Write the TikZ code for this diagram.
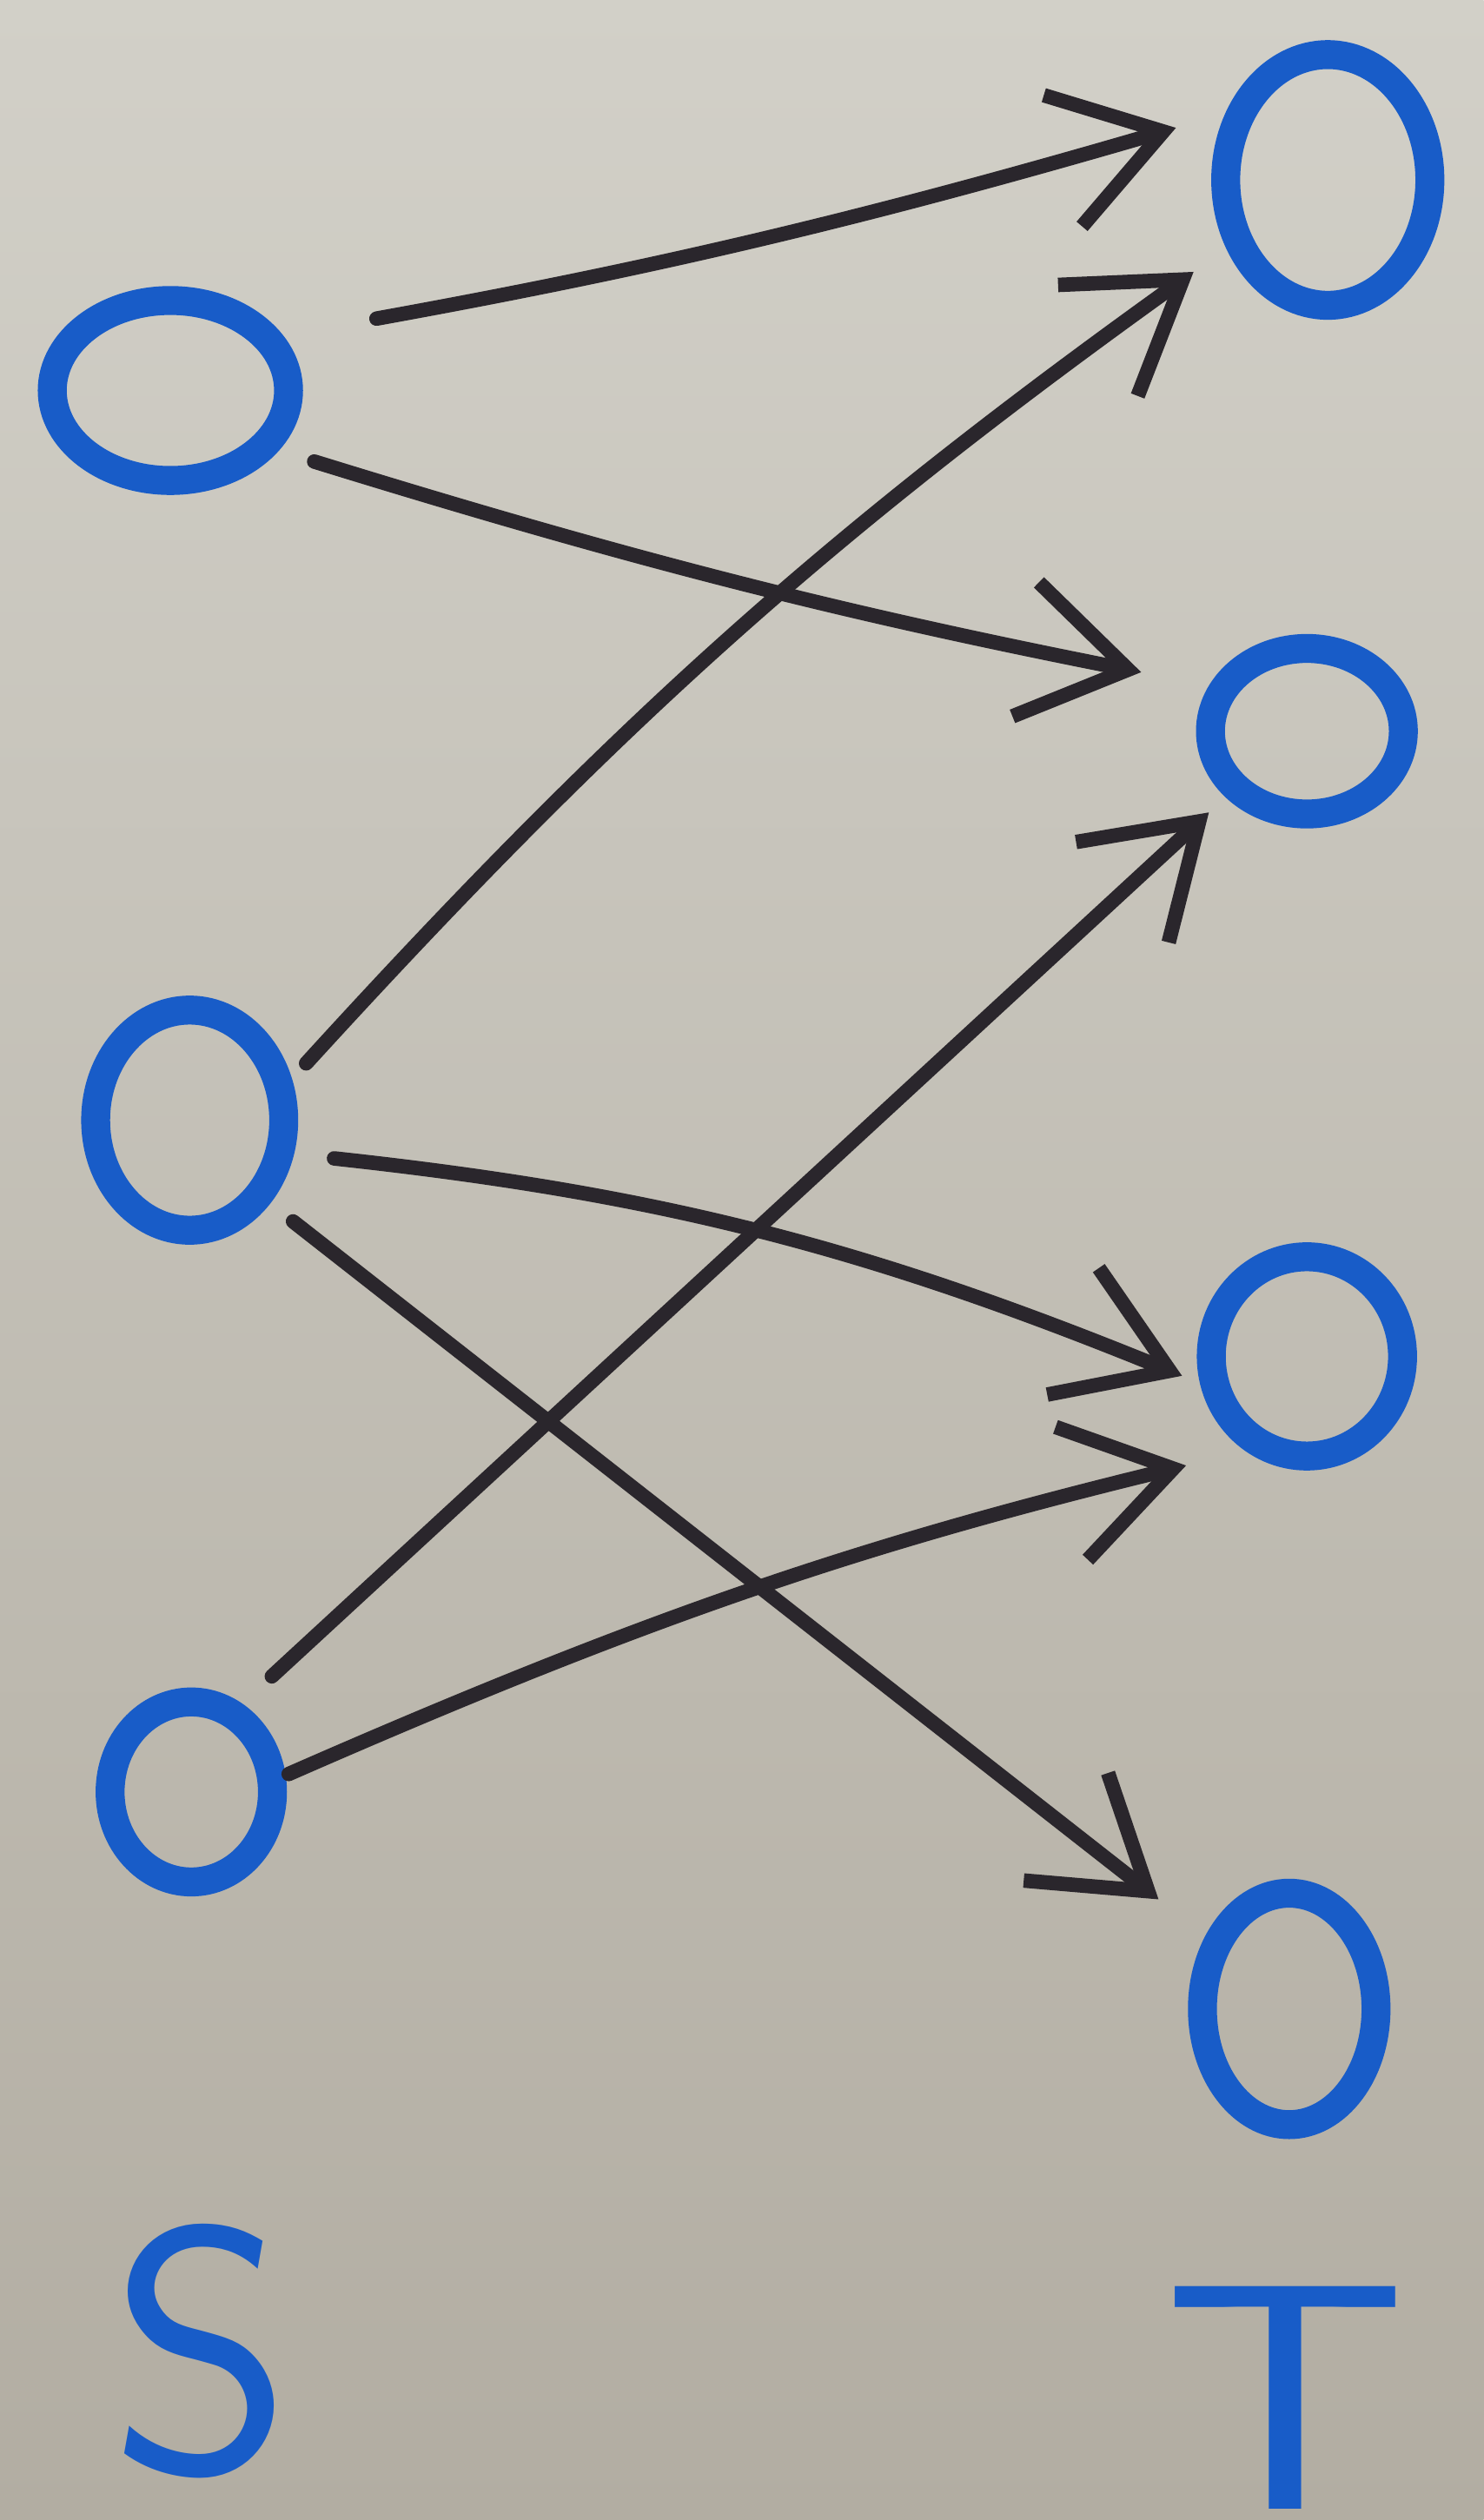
\documentclass[tikz,border=0pt]{standalone}
\usepackage{xcolor}
\usepackage{graphicx}
\usepackage{tikz}
\usetikzlibrary{shapes.geometric, arrows.meta, positioning}
\definecolor{inkblue}{RGB}{24,92,200}
\definecolor{inkblack}{RGB}{42,38,44}
\definecolor{paperlight}{RGB}{210,208,200}
\definecolor{paperdark}{RGB}{178,173,162}
\tikzstyle{vertex} = [ellipse, draw=inkblue, line width=0.18cm, inner sep=0pt]
\tikzstyle{arrow} = [line width=0.09cm, line cap=round, draw=inkblack, -{Straight Barb[length=0.65cm, width=0.85cm]}]
\tikzstyle{setlabel} = [text=inkblue, font=\sffamily\fontsize{62}{62}\selectfont, inner sep=0pt]

\begin{document}
\begin{tikzpicture}[node distance=4cm]
        % Paper
        \shade [top color=paperlight, bottom color=paperdark] (0,0) rectangle (9.23,15.68);
        \useasboundingbox (0,0) rectangle (9.23,15.68);

        % Set S
        \node (s1) [vertex, minimum width=1.47cm, minimum height=1.12cm] at (1.06,13.25) {};
        \node (s2) [vertex, minimum width=1.17cm, minimum height=1.37cm, below of=s1, node distance=4.54cm, xshift=0.12cm] {};
        \node (s3) [vertex, minimum width=1.01cm, minimum height=1.12cm, below of=s2, node distance=4.18cm, xshift=0.01cm] {};

        % Set T
        \node (t1) [vertex, minimum width=1.27cm, minimum height=1.56cm, right of=s1, node distance=7.2cm, yshift=1.31cm] {};
        \node (t2) [vertex, minimum width=1.20cm, minimum height=1.03cm, below of=t1, node distance=3.43cm, xshift=-0.13cm] {};
        \node (t3) [vertex, minimum width=1.19cm, minimum height=1.24cm, below of=t2, node distance=3.89cm] {};
        \node (t4) [vertex, minimum width=1.08cm, minimum height=1.44cm, below of=t3, node distance=4.06cm, xshift=-0.11cm] {};

        % Labels
        \node (slabel) [setlabel, below of=s3, node distance=3.48cm, xshift=0.06cm] {S};
        \node (tlabel) [setlabel, below of=t4, node distance=2.42cm, xshift=-0.02cm] {\scalebox{1.1}[0.92]{T}};

        % Connections
        \draw [arrow, shorten <=0.59cm, shorten >=0.32cm] (s1.26) to[bend right=3] (t1.147);
        \draw [arrow, shorten <=0.23cm, shorten >=0.43cm] (s1.331) to[bend right=3] (t2.155);
        \draw [arrow, shorten <=0.13cm, shorten >=0.25cm] (s2.22) to[bend left=6] (t1.214);
        \draw [arrow, shorten <=0.25cm, shorten >=0.12cm] (s2.342) to[bend left=8] (t3.194);
        \draw [arrow, shorten <=0.18cm, shorten >=0.37cm] (s2.314) -- (t4.139);
        \draw [arrow, shorten <=0.25cm, shorten >=0.14cm] (s3.60) -- (t2.219);
        \draw [arrow, shorten <=0.02cm, shorten >=0.38cm] (s3.10) to[bend left=5] (t3.237);
    \end{tikzpicture}
\end{document}
